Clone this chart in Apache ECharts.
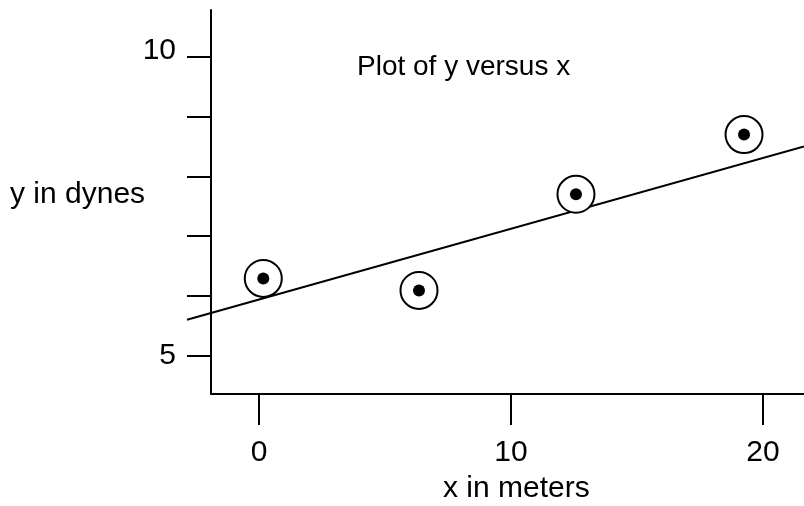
<!DOCTYPE html>
<html>
<head>
<meta charset="utf-8">
<script src="https://cdn.jsdelivr.net/npm/echarts@6/dist/echarts.min.js"></script>
<style>
  html, body { margin: 0; padding: 0; background: #fff; }
  #chart { width: 804px; height: 506px; }
</style>
</head>
<body>
<div id="chart"></div>
<script>
// ---- data ----
const pointX = [0.17, 6.35, 12.58, 19.25];
const pointY = [6.29, 6.09, 7.70, 8.70];
const fitLineX = [-2.8575, 21.63];
const fitLineY = [5.60, 8.50];
const xTickValues = [0, 10, 20];
const yTickValues = [5, 6, 7, 8, 9, 10];
const yLabelValues = [5, 10];
const titleText = 'Plot of y versus x';
const xAxisTitle = 'x in meters';
const yAxisTitle = 'y in dynes';

const FONT = "'Liberation Sans', Arial, Helvetica, sans-serif";
const FS = 30;

const points = pointX.map((x, i) => [x, pointY[i]]);
const fitLine = fitLineX.map((x, i) => [x, fitLineY[i]]);

const chart = echarts.init(document.getElementById('chart'), null, { renderer: 'canvas' });
chart.setOption({
  animation: false,
  backgroundColor: '#fff',
  textStyle: { fontFamily: FONT },
  title: [
    { text: titleText, left: 352, top: 48, textStyle: { fontSize: 28, fontWeight: 'normal', color: '#000', fontFamily: FONT } },
    { text: yAxisTitle, left: 5, top: 175, textStyle: { fontSize: FS, fontWeight: 'normal', color: '#000', fontFamily: FONT } },
    { text: xAxisTitle, left: 438, top: 469, textStyle: { fontSize: FS, fontWeight: 'normal', color: '#000', fontFamily: FONT } }
  ],
  grid: [
    { left: 211, right: 0, top: 10, bottom: 112, containLabel: false },
    { left: 187, right: 0, top: 10, bottom: 112, containLabel: false }
  ],
  xAxis: [
    {
      type: 'value',
      gridIndex: 0,
      min: -1.905,
      max: 21.63,
      splitLine: { show: false },
      axisLine: { show: true, onZero: false, lineStyle: { color: '#000', width: 2 } },
      axisTick: { show: true, inside: false, length: 31, customValues: xTickValues, lineStyle: { color: '#000', width: 2 } },
      axisLabel: { show: true, customValues: xTickValues, margin: 44, fontSize: FS, color: '#000', fontFamily: FONT }
    },
    {
      type: 'value',
      gridIndex: 1,
      min: -2.8575,
      max: 21.63,
      show: false
    }
  ],
  yAxis: [
    {
      type: 'value',
      gridIndex: 0,
      min: 4.355,
      max: 10.787,
      splitLine: { show: false },
      axisLine: { show: true, onZero: false, lineStyle: { color: '#000', width: 2 } },
      axisTick: { show: true, inside: false, length: 24, customValues: yTickValues, lineStyle: { color: '#000', width: 2 } },
      axisLabel: {
        show: true,
        customValues: yLabelValues,
        margin: 35,
        fontSize: FS,
        color: '#000',
        fontFamily: FONT,
        verticalAlign: 'middle',
        formatter: function (v) { return v >= 10 ? '{hi|' + v + '}' : '{lo|' + v + '}'; },
        rich: {
          hi: { fontSize: FS, color: '#000', fontFamily: FONT, padding: [0, 0, 12, 0] },
          lo: { fontSize: FS, color: '#000', fontFamily: FONT, padding: [0, 0, 0, 0] }
        }
      }
    },
    {
      type: 'value',
      gridIndex: 1,
      min: 4.355,
      max: 10.787,
      show: false
    }
  ],
  series: [
    {
      type: 'line',
      xAxisIndex: 1,
      yAxisIndex: 1,
      data: fitLine,
      clip: false,
      symbol: 'none',
      lineStyle: { color: '#000', width: 2 },
      z: 1
    },
    {
      type: 'scatter',
      xAxisIndex: 0,
      yAxisIndex: 0,
      data: points,
      symbol: 'circle',
      symbolSize: 37,
      itemStyle: { color: '#fff', borderColor: '#000', borderWidth: 2, opacity: 1 },
      z: 2
    },
    {
      type: 'scatter',
      xAxisIndex: 0,
      yAxisIndex: 0,
      data: points,
      symbol: 'circle',
      symbolSize: 12,
      itemStyle: { color: '#000', opacity: 1 },
      z: 3
    }
  ]
});
</script>
</body>
</html>
